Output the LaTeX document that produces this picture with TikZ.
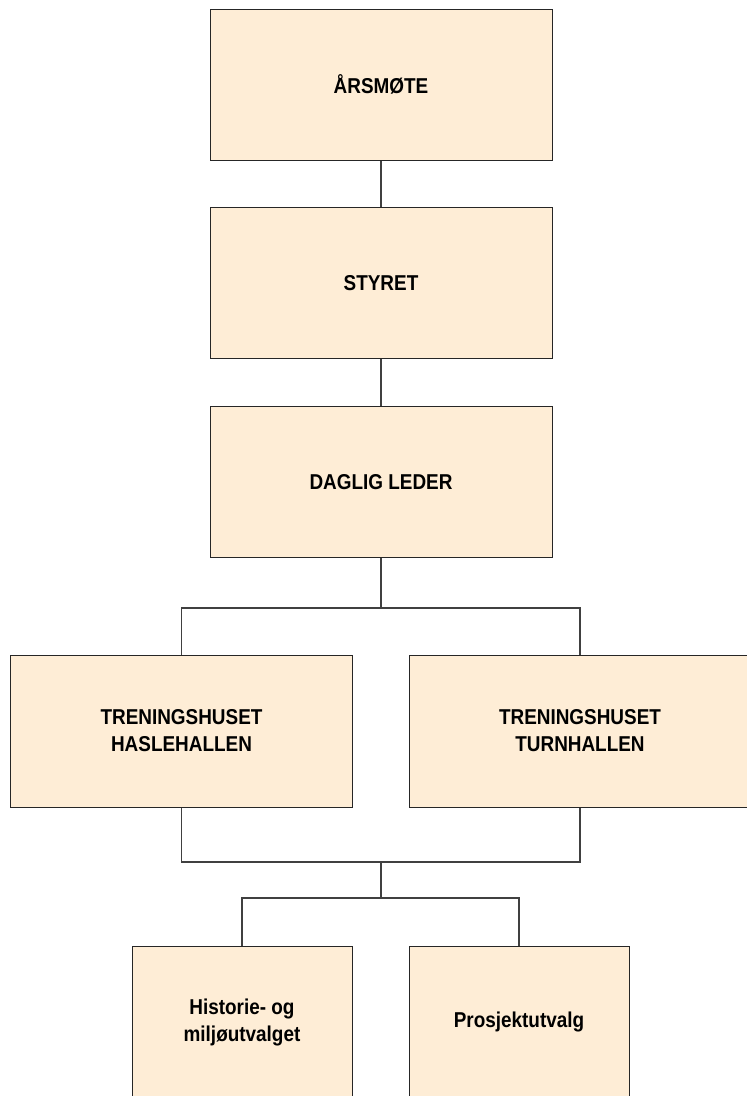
\documentclass[tikz,border=0pt]{standalone}
\usepackage{fontspec}
\setmainfont{Liberation Sans}[FakeStretch=0.88]
\definecolor{boxfill}{HTML}{FEEDD6}
\begin{document}
\begin{tikzpicture}[x=1bp,y=-1bp,
  orgbox/.style={draw=black!85, line width=1bp, fill=boxfill, rectangle,
    inner sep=0pt, align=center, font=\fontsize{21.5bp}{27bp}\selectfont\bfseries},
  link/.style={draw=black!75, line width=1.3bp}]
\useasboundingbox (0,0) rectangle (747,1096);
\node[orgbox, minimum width=342bp, minimum height=151bp] (aars) at (381,84.5) {ÅRSMØTE};
\node[orgbox, minimum width=342bp, minimum height=151bp] (styret) at (381,283) {STYRET};
\node[orgbox, minimum width=342bp, minimum height=151bp] (daglig) at (381,482) {DAGLIG LEDER};
\node[orgbox, minimum width=342bp, minimum height=152bp] (hasle) at (181.5,731) {TRENINGSHUSET\\HASLEHALLEN};
\node[orgbox, minimum width=342bp, minimum height=152bp] (turn) at (580,731) {TRENINGSHUSET\\TURNHALLEN};
\node[orgbox, minimum width=220bp, minimum height=152bp] (hist) at (242,1022) {Historie- og\\miljøutvalget};
\node[orgbox, minimum width=220bp, minimum height=152bp] (pros) at (519,1022) {Prosjektutvalg};
\coordinate (j1) at (381,608);
\coordinate (j2) at (381,862);
\coordinate (j3) at (381,898);
\draw[link] (aars.south) -- (styret.north);
\draw[link] (styret.south) -- (daglig.north);
\draw[link] (daglig.south) -- (j1);
\draw[link] (hasle.north) |- (j1) -| (turn.north);
\draw[link] (hasle.south) |- (j2) -| (turn.south);
\draw[link] (j2) -- (j3);
\draw[link] (hist.north) |- (j3) -| (pros.north);
\end{tikzpicture}
\end{document}
